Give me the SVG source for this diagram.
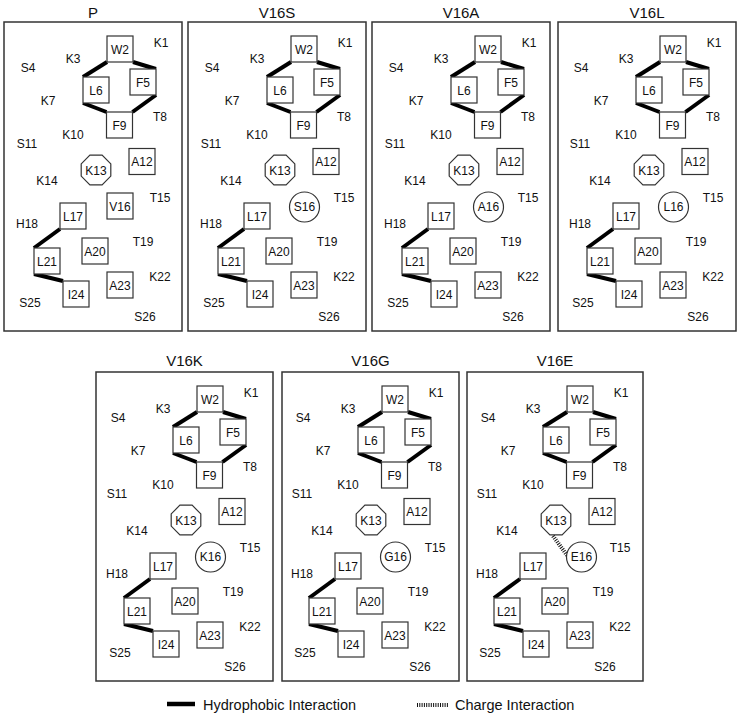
<svg xmlns="http://www.w3.org/2000/svg" width="739" height="713" viewBox="0 0 739 713">
<style>
text{font-family:"Liberation Sans",Arial,sans-serif;fill:#111;text-anchor:middle}
.t{font-size:15px}
.l{font-size:12px}
.frame{fill:none;stroke:#333;stroke-width:1.5}
.node rect,.node circle,.node polygon{fill:#fff;stroke:#333;stroke-width:1.2}
.hyd{stroke:#000;stroke-width:4;stroke-linecap:butt;fill:none}
.chg{stroke:#111;stroke-width:4;stroke-dasharray:1 1.3;fill:none}
.lg{font-size:14.5px;text-anchor:start}
</style>
<rect width="739" height="713" fill="#fff"/>

<!-- Panel P -->
<g id="panel-P">
<text class="t" x="93" y="18">P</text>
<rect class="frame" x="4" y="22" width="178" height="309"/>
<g id="P-connectors">
<line class="hyd" x1="107" y1="62" x2="83" y2="77"/>
<line class="hyd" x1="133" y1="62" x2="156" y2="69"/>
<line class="hyd" x1="83" y1="103" x2="106.5" y2="112"/>
<line class="hyd" x1="156" y1="95" x2="132.5" y2="112"/>
<line class="hyd" x1="60" y1="229" x2="34" y2="248"/>
<line class="hyd" x1="34" y1="274" x2="63" y2="281"/>
</g>
<g class="l">
<text x="161" y="47.3">K1</text><text x="73" y="63.3">K3</text><text x="28" y="72.3">S4</text><text x="48" y="105.3">K7</text><text x="160" y="121.3">T8</text><text x="73" y="139.3">K10</text><text x="27" y="148.3">S11</text><text x="47" y="185.3">K14</text><text x="160" y="202.3">T15</text><text x="27" y="228.3">H18</text><text x="143" y="246.3">T19</text><text x="160" y="281.3">K22</text><text x="30" y="307.3">S25</text><text x="145" y="321.3">S26</text>
</g>
<g class="l">
<g id="P-W2" class="node"><rect x="107" y="36" width="26" height="26"/><text x="120" y="53.5">W2</text></g>
<g id="P-F5" class="node"><rect x="130" y="69" width="26" height="26"/><text x="143" y="86.5">F5</text></g>
<g id="P-L6" class="node"><rect x="83" y="77" width="26" height="26"/><text x="96" y="94.5">L6</text></g>
<g id="P-F9" class="node"><rect x="106.5" y="112" width="26" height="26"/><text x="119.5" y="129.5">F9</text></g>
<g id="P-A12" class="node"><rect x="129" y="148.5" width="26" height="26"/><text x="142" y="166">A12</text></g>
<g id="P-K13" class="node"><polygon points="110.8,163.9 102.1,155.2 89.9,155.2 81.2,163.9 81.2,176.1 89.9,184.8 102.1,184.8 110.8,176.1"/><text x="96" y="174.5">K13</text></g>
<g id="P-V16" class="node"><rect x="107" y="193" width="26" height="26"/><text x="120" y="210.5">V16</text></g>
<g id="P-L17" class="node"><rect x="60" y="203" width="26" height="26"/><text x="73" y="220.5">L17</text></g>
<g id="P-A20" class="node"><rect x="82" y="238" width="26" height="26"/><text x="95" y="255.5">A20</text></g>
<g id="P-L21" class="node"><rect x="34" y="248" width="26" height="26"/><text x="47" y="265.5">L21</text></g>
<g id="P-A23" class="node"><rect x="107" y="272" width="26" height="26"/><text x="120" y="289.5">A23</text></g>
<g id="P-I24" class="node"><rect x="63" y="281" width="26" height="26"/><text x="76" y="298.5">I24</text></g>
</g>
</g>

<!-- Panel V16S -->
<g id="panel-V16S" transform="translate(184,0)">
<text class="t" x="93" y="18">V16S</text>
<rect class="frame" x="4" y="22" width="178" height="309"/>
<g id="S-connectors">
<line class="hyd" x1="107" y1="62" x2="83" y2="77"/>
<line class="hyd" x1="133" y1="62" x2="156" y2="69"/>
<line class="hyd" x1="83" y1="103" x2="106.5" y2="112"/>
<line class="hyd" x1="156" y1="95" x2="132.5" y2="112"/>
<line class="hyd" x1="60" y1="229" x2="34" y2="248"/>
<line class="hyd" x1="34" y1="274" x2="63" y2="281"/>
</g>
<g class="l">
<text x="161" y="47.3">K1</text><text x="73" y="63.3">K3</text><text x="28" y="72.3">S4</text><text x="48" y="105.3">K7</text><text x="160" y="121.3">T8</text><text x="73" y="139.3">K10</text><text x="27" y="148.3">S11</text><text x="47" y="185.3">K14</text><text x="160" y="202.3">T15</text><text x="27" y="228.3">H18</text><text x="143" y="246.3">T19</text><text x="160" y="281.3">K22</text><text x="30" y="307.3">S25</text><text x="145" y="321.3">S26</text>
</g>
<g class="l">
<g id="S-W2" class="node"><rect x="107" y="36" width="26" height="26"/><text x="120" y="53.5">W2</text></g>
<g id="S-F5" class="node"><rect x="130" y="69" width="26" height="26"/><text x="143" y="86.5">F5</text></g>
<g id="S-L6" class="node"><rect x="83" y="77" width="26" height="26"/><text x="96" y="94.5">L6</text></g>
<g id="S-F9" class="node"><rect x="106.5" y="112" width="26" height="26"/><text x="119.5" y="129.5">F9</text></g>
<g id="S-A12" class="node"><rect x="129" y="148.5" width="26" height="26"/><text x="142" y="166">A12</text></g>
<g id="S-K13" class="node"><polygon points="110.8,163.9 102.1,155.2 89.9,155.2 81.2,163.9 81.2,176.1 89.9,184.8 102.1,184.8 110.8,176.1"/><text x="96" y="174.5">K13</text></g>
<g id="S-S16" class="node"><circle cx="120.5" cy="207" r="15"/><text x="120.5" y="211.3">S16</text></g>
<g id="S-L17" class="node"><rect x="60" y="203" width="26" height="26"/><text x="73" y="220.5">L17</text></g>
<g id="S-A20" class="node"><rect x="82" y="238" width="26" height="26"/><text x="95" y="255.5">A20</text></g>
<g id="S-L21" class="node"><rect x="34" y="248" width="26" height="26"/><text x="47" y="265.5">L21</text></g>
<g id="S-A23" class="node"><rect x="107" y="272" width="26" height="26"/><text x="120" y="289.5">A23</text></g>
<g id="S-I24" class="node"><rect x="63" y="281" width="26" height="26"/><text x="76" y="298.5">I24</text></g>
</g>
</g>

<!-- Panel V16A -->
<g id="panel-V16A" transform="translate(368,0)">
<text class="t" x="93" y="18">V16A</text>
<rect class="frame" x="4" y="22" width="178" height="309"/>
<g id="A-connectors">
<line class="hyd" x1="107" y1="62" x2="83" y2="77"/>
<line class="hyd" x1="133" y1="62" x2="156" y2="69"/>
<line class="hyd" x1="83" y1="103" x2="106.5" y2="112"/>
<line class="hyd" x1="156" y1="95" x2="132.5" y2="112"/>
<line class="hyd" x1="60" y1="229" x2="34" y2="248"/>
<line class="hyd" x1="34" y1="274" x2="63" y2="281"/>
</g>
<g class="l">
<text x="161" y="47.3">K1</text><text x="73" y="63.3">K3</text><text x="28" y="72.3">S4</text><text x="48" y="105.3">K7</text><text x="160" y="121.3">T8</text><text x="73" y="139.3">K10</text><text x="27" y="148.3">S11</text><text x="47" y="185.3">K14</text><text x="160" y="202.3">T15</text><text x="27" y="228.3">H18</text><text x="143" y="246.3">T19</text><text x="160" y="281.3">K22</text><text x="30" y="307.3">S25</text><text x="145" y="321.3">S26</text>
</g>
<g class="l">
<g id="A-W2" class="node"><rect x="107" y="36" width="26" height="26"/><text x="120" y="53.5">W2</text></g>
<g id="A-F5" class="node"><rect x="130" y="69" width="26" height="26"/><text x="143" y="86.5">F5</text></g>
<g id="A-L6" class="node"><rect x="83" y="77" width="26" height="26"/><text x="96" y="94.5">L6</text></g>
<g id="A-F9" class="node"><rect x="106.5" y="112" width="26" height="26"/><text x="119.5" y="129.5">F9</text></g>
<g id="A-A12" class="node"><rect x="129" y="148.5" width="26" height="26"/><text x="142" y="166">A12</text></g>
<g id="A-K13" class="node"><polygon points="110.8,163.9 102.1,155.2 89.9,155.2 81.2,163.9 81.2,176.1 89.9,184.8 102.1,184.8 110.8,176.1"/><text x="96" y="174.5">K13</text></g>
<g id="A-A16" class="node"><circle cx="120.5" cy="207" r="15"/><text x="120.5" y="211.3">A16</text></g>
<g id="A-L17" class="node"><rect x="60" y="203" width="26" height="26"/><text x="73" y="220.5">L17</text></g>
<g id="A-A20" class="node"><rect x="82" y="238" width="26" height="26"/><text x="95" y="255.5">A20</text></g>
<g id="A-L21" class="node"><rect x="34" y="248" width="26" height="26"/><text x="47" y="265.5">L21</text></g>
<g id="A-A23" class="node"><rect x="107" y="272" width="26" height="26"/><text x="120" y="289.5">A23</text></g>
<g id="A-I24" class="node"><rect x="63" y="281" width="26" height="26"/><text x="76" y="298.5">I24</text></g>
</g>
</g>

<!-- Panel V16L -->
<g id="panel-V16L" transform="translate(553,0)">
<text class="t" x="94" y="18">V16L</text>
<rect class="frame" x="5" y="22" width="178" height="309"/>
<g id="L-connectors">
<line class="hyd" x1="107" y1="62" x2="83" y2="77"/>
<line class="hyd" x1="133" y1="62" x2="156" y2="69"/>
<line class="hyd" x1="83" y1="103" x2="106.5" y2="112"/>
<line class="hyd" x1="156" y1="95" x2="132.5" y2="112"/>
<line class="hyd" x1="60" y1="229" x2="34" y2="248"/>
<line class="hyd" x1="34" y1="274" x2="63" y2="281"/>
</g>
<g class="l">
<text x="161" y="47.3">K1</text><text x="73" y="63.3">K3</text><text x="28" y="72.3">S4</text><text x="48" y="105.3">K7</text><text x="160" y="121.3">T8</text><text x="73" y="139.3">K10</text><text x="27" y="148.3">S11</text><text x="47" y="185.3">K14</text><text x="160" y="202.3">T15</text><text x="27" y="228.3">H18</text><text x="143" y="246.3">T19</text><text x="160" y="281.3">K22</text><text x="30" y="307.3">S25</text><text x="145" y="321.3">S26</text>
</g>
<g class="l">
<g id="L-W2" class="node"><rect x="107" y="36" width="26" height="26"/><text x="120" y="53.5">W2</text></g>
<g id="L-F5" class="node"><rect x="130" y="69" width="26" height="26"/><text x="143" y="86.5">F5</text></g>
<g id="L-L6" class="node"><rect x="83" y="77" width="26" height="26"/><text x="96" y="94.5">L6</text></g>
<g id="L-F9" class="node"><rect x="106.5" y="112" width="26" height="26"/><text x="119.5" y="129.5">F9</text></g>
<g id="L-A12" class="node"><rect x="129" y="148.5" width="26" height="26"/><text x="142" y="166">A12</text></g>
<g id="L-K13" class="node"><polygon points="110.8,163.9 102.1,155.2 89.9,155.2 81.2,163.9 81.2,176.1 89.9,184.8 102.1,184.8 110.8,176.1"/><text x="96" y="174.5">K13</text></g>
<g id="L-L16" class="node"><circle cx="120.5" cy="207" r="15"/><text x="120.5" y="211.3">L16</text></g>
<g id="L-L17" class="node"><rect x="60" y="203" width="26" height="26"/><text x="73" y="220.5">L17</text></g>
<g id="L-A20" class="node"><rect x="82" y="238" width="26" height="26"/><text x="95" y="255.5">A20</text></g>
<g id="L-L21" class="node"><rect x="34" y="248" width="26" height="26"/><text x="47" y="265.5">L21</text></g>
<g id="L-A23" class="node"><rect x="107" y="272" width="26" height="26"/><text x="120" y="289.5">A23</text></g>
<g id="L-I24" class="node"><rect x="63" y="281" width="26" height="26"/><text x="76" y="298.5">I24</text></g>
</g>
</g>

<!-- Panel V16K -->
<g id="panel-V16K" transform="translate(90,350)">
<text class="t" x="94.5" y="15.5">V16K</text>
<rect class="frame" x="6" y="22" width="177" height="309"/>
<g id="K-connectors">
<line class="hyd" x1="107" y1="62" x2="83" y2="77"/>
<line class="hyd" x1="133" y1="62" x2="156" y2="69"/>
<line class="hyd" x1="83" y1="103" x2="106.5" y2="112"/>
<line class="hyd" x1="156" y1="95" x2="132.5" y2="112"/>
<line class="hyd" x1="60" y1="229" x2="34" y2="248"/>
<line class="hyd" x1="34" y1="274" x2="63" y2="281"/>
</g>
<g class="l">
<text x="161" y="47.3">K1</text><text x="73" y="63.3">K3</text><text x="28" y="72.3">S4</text><text x="48" y="105.3">K7</text><text x="160" y="121.3">T8</text><text x="73" y="139.3">K10</text><text x="27" y="148.3">S11</text><text x="47" y="185.3">K14</text><text x="160" y="202.3">T15</text><text x="27" y="228.3">H18</text><text x="143" y="246.3">T19</text><text x="160" y="281.3">K22</text><text x="30" y="307.3">S25</text><text x="145" y="321.3">S26</text>
</g>
<g class="l">
<g id="K-W2" class="node"><rect x="107" y="36" width="26" height="26"/><text x="120" y="53.5">W2</text></g>
<g id="K-F5" class="node"><rect x="130" y="69" width="26" height="26"/><text x="143" y="86.5">F5</text></g>
<g id="K-L6" class="node"><rect x="83" y="77" width="26" height="26"/><text x="96" y="94.5">L6</text></g>
<g id="K-F9" class="node"><rect x="106.5" y="112" width="26" height="26"/><text x="119.5" y="129.5">F9</text></g>
<g id="K-A12" class="node"><rect x="129" y="148.5" width="26" height="26"/><text x="142" y="166">A12</text></g>
<g id="K-K13" class="node"><polygon points="110.8,163.9 102.1,155.2 89.9,155.2 81.2,163.9 81.2,176.1 89.9,184.8 102.1,184.8 110.8,176.1"/><text x="96" y="174.5">K13</text></g>
<g id="K-K16" class="node"><circle cx="120.5" cy="207" r="15"/><text x="120.5" y="211.3">K16</text></g>
<g id="K-L17" class="node"><rect x="60" y="203" width="26" height="26"/><text x="73" y="220.5">L17</text></g>
<g id="K-A20" class="node"><rect x="82" y="238" width="26" height="26"/><text x="95" y="255.5">A20</text></g>
<g id="K-L21" class="node"><rect x="34" y="248" width="26" height="26"/><text x="47" y="265.5">L21</text></g>
<g id="K-A23" class="node"><rect x="107" y="272" width="26" height="26"/><text x="120" y="289.5">A23</text></g>
<g id="K-I24" class="node"><rect x="63" y="281" width="26" height="26"/><text x="76" y="298.5">I24</text></g>
</g>
</g>

<!-- Panel V16G -->
<g id="panel-V16G" transform="translate(275,350)">
<text class="t" x="95.5" y="15.5">V16G</text>
<rect class="frame" x="7" y="22" width="177" height="309"/>
<g id="G-connectors">
<line class="hyd" x1="107" y1="62" x2="83" y2="77"/>
<line class="hyd" x1="133" y1="62" x2="156" y2="69"/>
<line class="hyd" x1="83" y1="103" x2="106.5" y2="112"/>
<line class="hyd" x1="156" y1="95" x2="132.5" y2="112"/>
<line class="hyd" x1="60" y1="229" x2="34" y2="248"/>
<line class="hyd" x1="34" y1="274" x2="63" y2="281"/>
</g>
<g class="l">
<text x="161" y="47.3">K1</text><text x="73" y="63.3">K3</text><text x="28" y="72.3">S4</text><text x="48" y="105.3">K7</text><text x="160" y="121.3">T8</text><text x="73" y="139.3">K10</text><text x="27" y="148.3">S11</text><text x="47" y="185.3">K14</text><text x="160" y="202.3">T15</text><text x="27" y="228.3">H18</text><text x="143" y="246.3">T19</text><text x="160" y="281.3">K22</text><text x="30" y="307.3">S25</text><text x="145" y="321.3">S26</text>
</g>
<g class="l">
<g id="G-W2" class="node"><rect x="107" y="36" width="26" height="26"/><text x="120" y="53.5">W2</text></g>
<g id="G-F5" class="node"><rect x="130" y="69" width="26" height="26"/><text x="143" y="86.5">F5</text></g>
<g id="G-L6" class="node"><rect x="83" y="77" width="26" height="26"/><text x="96" y="94.5">L6</text></g>
<g id="G-F9" class="node"><rect x="106.5" y="112" width="26" height="26"/><text x="119.5" y="129.5">F9</text></g>
<g id="G-A12" class="node"><rect x="129" y="148.5" width="26" height="26"/><text x="142" y="166">A12</text></g>
<g id="G-K13" class="node"><polygon points="110.8,163.9 102.1,155.2 89.9,155.2 81.2,163.9 81.2,176.1 89.9,184.8 102.1,184.8 110.8,176.1"/><text x="96" y="174.5">K13</text></g>
<g id="G-G16" class="node"><circle cx="120.5" cy="207" r="15"/><text x="120.5" y="211.3">G16</text></g>
<g id="G-L17" class="node"><rect x="60" y="203" width="26" height="26"/><text x="73" y="220.5">L17</text></g>
<g id="G-A20" class="node"><rect x="82" y="238" width="26" height="26"/><text x="95" y="255.5">A20</text></g>
<g id="G-L21" class="node"><rect x="34" y="248" width="26" height="26"/><text x="47" y="265.5">L21</text></g>
<g id="G-A23" class="node"><rect x="107" y="272" width="26" height="26"/><text x="120" y="289.5">A23</text></g>
<g id="G-I24" class="node"><rect x="63" y="281" width="26" height="26"/><text x="76" y="298.5">I24</text></g>
</g>
</g>

<!-- Panel V16E -->
<g id="panel-V16E" transform="translate(460,350)">
<text class="t" x="95" y="15.5">V16E</text>
<rect class="frame" x="7" y="22" width="176" height="309"/>
<g id="E-connectors">
<line class="hyd" x1="107" y1="62" x2="83" y2="77"/>
<line class="hyd" x1="133" y1="62" x2="156" y2="69"/>
<line class="hyd" x1="83" y1="103" x2="106.5" y2="112"/>
<line class="hyd" x1="156" y1="95" x2="132.5" y2="112"/>
<line class="hyd" x1="60" y1="229" x2="34" y2="248"/>
<line class="hyd" x1="34" y1="274" x2="63" y2="281"/>
<line class="chg" x1="93" y1="186" x2="109" y2="208"/>
</g>
<g class="l">
<text x="161" y="47.3">K1</text><text x="73" y="63.3">K3</text><text x="28" y="72.3">S4</text><text x="48" y="105.3">K7</text><text x="160" y="121.3">T8</text><text x="73" y="139.3">K10</text><text x="27" y="148.3">S11</text><text x="47" y="185.3">K14</text><text x="160" y="202.3">T15</text><text x="27" y="228.3">H18</text><text x="143" y="246.3">T19</text><text x="160" y="281.3">K22</text><text x="30" y="307.3">S25</text><text x="145" y="321.3">S26</text>
</g>
<g class="l">
<g id="E-W2" class="node"><rect x="107" y="36" width="26" height="26"/><text x="120" y="53.5">W2</text></g>
<g id="E-F5" class="node"><rect x="130" y="69" width="26" height="26"/><text x="143" y="86.5">F5</text></g>
<g id="E-L6" class="node"><rect x="83" y="77" width="26" height="26"/><text x="96" y="94.5">L6</text></g>
<g id="E-F9" class="node"><rect x="106.5" y="112" width="26" height="26"/><text x="119.5" y="129.5">F9</text></g>
<g id="E-A12" class="node"><rect x="129" y="148.5" width="26" height="26"/><text x="142" y="166">A12</text></g>
<g id="E-K13" class="node"><polygon points="110.8,163.9 102.1,155.2 89.9,155.2 81.2,163.9 81.2,176.1 89.9,184.8 102.1,184.8 110.8,176.1"/><text x="96" y="174.5">K13</text></g>
<g id="E-E16" class="node"><circle cx="121.5" cy="207" r="15"/><text x="121.5" y="211.3">E16</text></g>
<g id="E-L17" class="node"><rect x="60" y="203" width="26" height="26"/><text x="73" y="220.5">L17</text></g>
<g id="E-A20" class="node"><rect x="82" y="238" width="26" height="26"/><text x="95" y="255.5">A20</text></g>
<g id="E-L21" class="node"><rect x="34" y="248" width="26" height="26"/><text x="47" y="265.5">L21</text></g>
<g id="E-A23" class="node"><rect x="107" y="272" width="26" height="26"/><text x="120" y="289.5">A23</text></g>
<g id="E-I24" class="node"><rect x="63" y="281" width="26" height="26"/><text x="76" y="298.5">I24</text></g>
</g>
</g>

<!-- Legend -->
<g id="legend">
<line class="hyd" x1="167" y1="704" x2="195" y2="704" style="stroke-width:4.5"/>
<text class="lg" x="203" y="709.5">Hydrophobic Interaction</text>
<line class="chg" x1="417" y1="705" x2="448" y2="705"/>
<text class="lg" x="455" y="709.5">Charge Interaction</text>
</g>
</svg>
